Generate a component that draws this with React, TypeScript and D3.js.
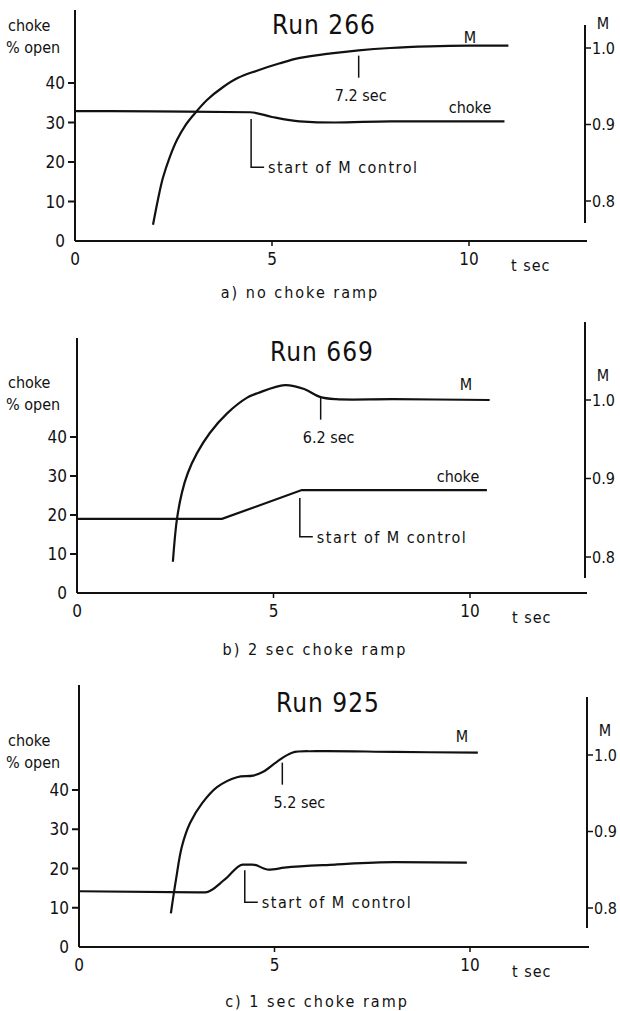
import * as d3 from "d3";

// values (t in sec, choke in % open, M dimensionless)
const runNames = ["Run 266", "Run 669", "Run 925"];
const captions = ["a)  no choke ramp", "b)  2 sec choke ramp", "c)  1 sec choke ramp"];

const mTimeA = [1.98, 2.11, 2.23, 2.41, 2.59, 2.79, 3.0, 3.35, 3.76, 4.14, 4.6, 5.2, 5.71, 6.5, 7.2, 8.0, 9.0, 10.0, 11.0];
const mValA = [0.769, 0.803, 0.83, 0.858, 0.88, 0.898, 0.912, 0.932, 0.949, 0.961, 0.97, 0.98, 0.987, 0.993, 0.997, 1.0, 1.002, 1.003, 1.003];
const chokeTimeA = [0, 2, 4.45, 5.0, 5.7, 6.6, 8.0, 10.9];
const chokeValA = [32.9, 32.8, 32.6, 31.4, 30.3, 30.0, 30.3, 30.3];

const mTimeB = [2.44, 2.54, 2.67, 2.82, 3.05, 3.38, 3.82, 4.33, 4.61, 5.29, 5.78, 6.18, 6.59, 8.07, 10.5];
const mValB = [0.794, 0.847, 0.882, 0.907, 0.932, 0.958, 0.983, 1.003, 1.009, 1.019, 1.014, 1.004, 1.001, 1.001, 1.0];
const chokeTimeB = [0, 3.69, 5.72, 10.43];
const chokeValB = [19.0, 19.0, 26.4, 26.4];

const mTimeC = [2.35, 2.48, 2.63, 2.84, 3.15, 3.53, 4.04, 4.45, 4.71, 5.06, 5.45, 6.06, 8.07, 10.2];
const mValC = [0.793, 0.837, 0.88, 0.911, 0.937, 0.958, 0.971, 0.973, 0.978, 0.991, 1.003, 1.005, 1.004, 1.003];
const chokeTimeC = [0, 3.23, 3.73, 4.19, 4.44, 4.85, 5.25, 6.55, 8.06, 9.92];
const chokeValC = [14.2, 13.9, 17.2, 21.0, 21.0, 19.7, 20.2, 21.0, 21.6, 21.5];

const settleTimes = [7.2, 6.2, 5.2];
const settleM = [0.99, 1.003, 0.99];
const controlTimes = [4.47, 5.67, 4.24];
const controlLevel = [18.7, 14.4, 11.4];

const chokeTicks = [0, 10, 20, 30, 40];
const mTicks = [0.8, 0.9, 1.0];
const tTicks = [0, 5, 10];

const font = "'DejaVu Sans Condensed', 'Liberation Sans Narrow', 'DejaVu Sans', sans-serif";
const ink = "#111";

type Layout = {
  x0: number; x10: number; top: number; base: number; c40: number;
  rx: number; rTop: number; rBottom: number; m1: number; m08: number;
  titleX: number; titleY: number; capX: number; capY: number;
  labelY: number; mLabel: [number, number]; chokeLabel: [number, number] | null;
  settleDx: number; xEnd: number;
};

const layouts: Layout[] = [
  { x0: 75, x10: 469, top: 10, base: 241, c40: 83, rx: 585, rTop: 25, rBottom: 223, m1: 48, m08: 201,
    titleX: 324, titleY: 34, capX: 300, capY: 298, labelY: 25, mLabel: [470, 43], chokeLabel: [470, 113],
    settleDx: 2, xEnd: 587 },
  { x0: 77, x10: 470, top: 338, base: 593, c40: 437, rx: 585, rTop: 322, rBottom: 578, m1: 400, m08: 557,
    titleX: 322, titleY: 361, capX: 315, capY: 655, labelY: 382, mLabel: [466, 390], chokeLabel: [458, 482],
    settleDx: 8, xEnd: 587 },
  { x0: 79, x10: 470, top: 685, base: 947, c40: 790, rx: 587, rTop: 697, rBottom: 928, m1: 755, m08: 908,
    titleX: 328, titleY: 712, capX: 317, capY: 1007, labelY: 740, mLabel: [462, 742], chokeLabel: null,
    settleDx: 17, xEnd: 589 },
];

const series = [
  { mt: mTimeA, mv: mValA, ct: chokeTimeA, cv: chokeValA, sharp: false },
  { mt: mTimeB, mv: mValB, ct: chokeTimeB, cv: chokeValB, sharp: true },
  { mt: mTimeC, mv: mValC, ct: chokeTimeC, cv: chokeValC, sharp: false },
];

const Panel = ({ i }: { i: number }) => {
  const L = layouts[i];
  const s = series[i];
  const x = d3.scaleLinear().domain([0, 10]).range([L.x0, L.x10]);
  const yc = d3.scaleLinear().domain([0, 40]).range([L.base, L.c40]);
  const ym = d3.scaleLinear().domain([0.8, 1.0]).range([L.m08, L.m1]);

  const mLine = d3
    .line<number>()
    .x((d, k) => x(s.mt[k]))
    .y((d) => ym(d))
    .curve(d3.curveCatmullRom.alpha(0.5));
  const cLine = d3
    .line<number>()
    .x((d, k) => x(s.ct[k]))
    .y((d) => yc(d))
    .curve(s.sharp ? d3.curveLinear : d3.curveMonotoneX);

  const sx = x(settleTimes[i]);
  const sy = ym(settleM[i]);
  const cx = x(controlTimes[i]);
  const cTop = yc(d3.max(s.cv)!) + 8;
  const cBot = yc(controlLevel[i]);

  return (
    <g fontFamily={font} fill={ink}>
      <text x={L.titleX} y={L.titleY} fontSize={26} textAnchor="middle" letterSpacing={1}>
        {runNames[i]}
      </text>
      {/* left axis */}
      <line x1={L.x0} x2={L.x0} y1={L.top} y2={L.base} stroke={ink} strokeWidth={2} />
      {chokeTicks.map((v) => (
        <g key={v}>
          {v > 0 && <line x1={L.x0 - 7} x2={L.x0} y1={yc(v)} y2={yc(v)} stroke={ink} strokeWidth={2} />}
          <text x={L.x0 - 10} y={yc(v)} dy="0.36em" fontSize={17} textAnchor="end">
            {v}
          </text>
        </g>
      ))}
      <text x={8} y={L.labelY} dy="0.36em" fontSize={16}>choke</text>
      <text x={6} y={L.labelY + 22} dy="0.36em" fontSize={16}>% open</text>
      {/* bottom axis */}
      <line x1={L.x0} x2={L.xEnd} y1={L.base} y2={L.base} stroke={ink} strokeWidth={2} />
      {tTicks.map((v) => (
        <g key={v}>
          {v > 0 && <line x1={x(v)} x2={x(v)} y1={L.base} y2={L.base + 5} stroke={ink} strokeWidth={1.5} />}
          <text x={x(v)} y={L.base + 18} dy="0.36em" fontSize={17} textAnchor="middle">
            {v}
          </text>
        </g>
      ))}
      <text x={x(10) + 42} y={L.base + 24} dy="0.36em" fontSize={16} letterSpacing={1}>
        t  sec
      </text>
      {/* right M axis */}
      <line x1={L.rx} x2={L.rx} y1={L.rTop} y2={L.rBottom} stroke={ink} strokeWidth={2} />
      {mTicks.map((v) => (
        <g key={v}>
          <line x1={L.rx} x2={L.rx + 6} y1={ym(v)} y2={ym(v)} stroke={ink} strokeWidth={1.5} />
          <text x={L.rx + 7} y={ym(v)} dy="0.36em" fontSize={16}>
            {v.toFixed(1)}
          </text>
        </g>
      ))}
      <text x={L.rx + 18} y={ym(1.0) - 25} dy="0.36em" fontSize={16} textAnchor="middle">M</text>
      {/* curves */}
      <path d={mLine(s.mv) ?? undefined} fill="none" stroke={ink} strokeWidth={2.2} />
      <path d={cLine(s.cv) ?? undefined} fill="none" stroke={ink} strokeWidth={2.2} />
      <text x={L.mLabel[0]} y={L.mLabel[1]} fontSize={16} textAnchor="middle">M</text>
      {L.chokeLabel && (
        <text x={L.chokeLabel[0]} y={L.chokeLabel[1]} fontSize={16} textAnchor="middle">choke</text>
      )}
      {/* settling marker */}
      <line x1={sx} x2={sx} y1={sy} y2={sy + 22} stroke={ink} strokeWidth={1.5} />
      <text x={sx + L.settleDx} y={sy + 45} fontSize={16} textAnchor="middle">
        {settleTimes[i].toFixed(1)} sec
      </text>
      {/* start of M control marker */}
      <path
        d={`M${cx},${cTop}V${cBot}H${cx + 13}`}
        fill="none"
        stroke={ink}
        strokeWidth={1.5}
      />
      <text x={cx + 17} y={cBot} dy="0.36em" fontSize={16} letterSpacing={1.5}>
        start of  M  control
      </text>
      <text x={L.capX} y={L.capY} fontSize={16} textAnchor="middle" letterSpacing={2}>
        {captions[i]}
      </text>
    </g>
  );
};

export default function App() {
  return (
    <svg
      width={620}
      height={1011}
      style={{ position: "absolute", left: 0, top: 0, background: "#fff" }}
    >
      <rect width={620} height={1011} fill="#fff" />
      {[0, 1, 2].map((i) => (
        <Panel key={i} i={i} />
      ))}
    </svg>
  );
}
